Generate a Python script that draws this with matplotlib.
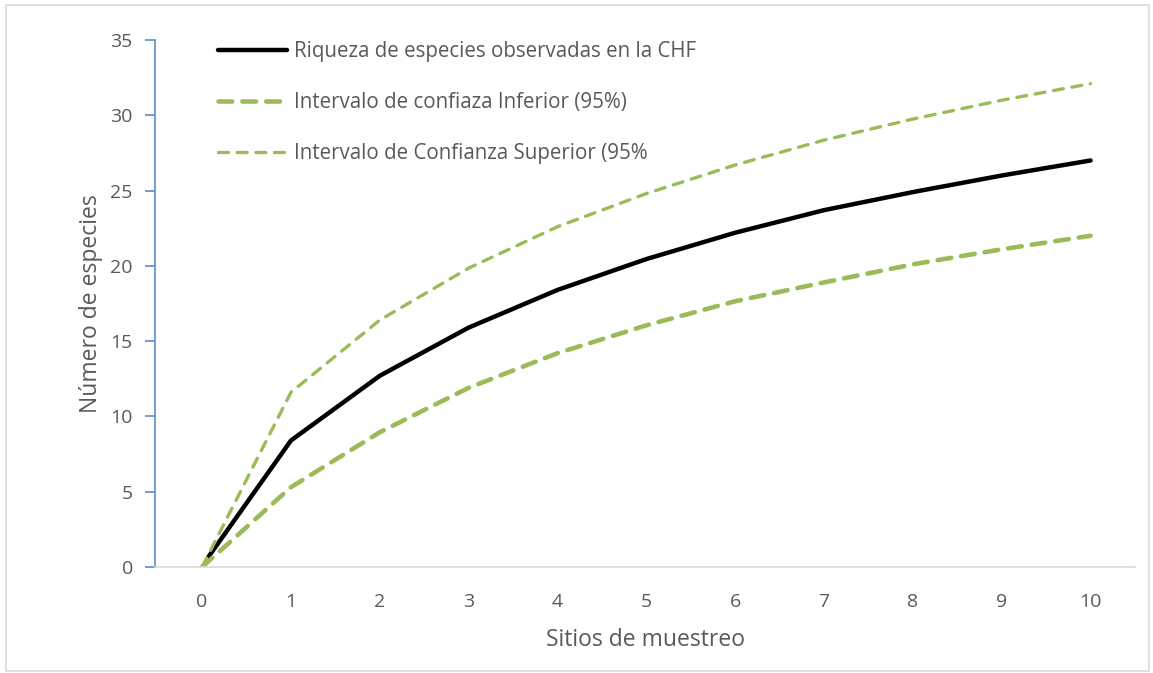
import matplotlib.pyplot as plt
from matplotlib.patches import Rectangle

plt.rcParams['font.family'] = ['Open Sans', 'DejaVu Sans']

sitios = [0, 1, 2, 3, 4, 5, 6, 7, 8, 9, 10]
sitios_obs = [0.07, 1, 2, 3, 4, 5, 6, 7, 8, 9, 10]
riqueza = [0.66, 8.4, 12.7, 15.9, 18.4, 20.45, 22.2, 23.7, 24.9, 26.0, 27.0]
ic_inferior = [0, 5.3, 8.95, 11.9, 14.2, 16.05, 17.65, 18.9, 20.1, 21.1, 22.0]
ic_superior = [0, 11.6, 16.4, 19.85, 22.6, 24.8, 26.7, 28.35, 29.75, 31.0, 32.1]
etiquetas = ["Riqueza de especies observadas en la CHF",
             "Intervalo de confiaza Inferior (95%)",
             "Intervalo de Confianza Superior (95%"]

verde = "#9BBB59"
gris = "#595959"

fig = plt.figure(figsize=(11.53, 6.73), dpi=100)
ax = fig.add_axes([155 / 1153, 1 - 567 / 673, (1135 - 155) / 1153, (567 - 40) / 673])

ax.plot(sitios_obs, riqueza, color="black", lw=3.2, solid_capstyle="round", label=etiquetas[0])
ax.plot(sitios, ic_inferior, color=verde, lw=3.3, ls=(0, (3, 2.2)), dash_capstyle="round", label=etiquetas[1])
ax.plot(sitios, ic_superior, color=verde, lw=2.4, ls=(0, (3, 2.6)), dash_capstyle="round", label=etiquetas[2])

ax.set_xlim(-0.53, 10.5)
ax.set_ylim(0, 35)
ax.set_xticks(sitios)
ax.set_yticks(range(0, 36, 5))

for s in ["top", "right"]:
    ax.spines[s].set_visible(False)
ax.spines["bottom"].set_color("#D9D9D9")
ax.spines["bottom"].set_linewidth(1.2)
ax.spines["left"].set_color("#5B8BD0")
ax.spines["left"].set_linewidth(1.2)

ax.tick_params(axis="y", colors="#5B8BD0", length=7, width=1.2, labelcolor=gris, labelsize=14, pad=9)
ax.tick_params(axis="x", length=0, labelcolor=gris, labelsize=14, pad=19)

ax.set_xlabel("Sitios de muestreo", fontsize=16.5, color=gris, labelpad=12)
ax.set_ylabel("Número de especies", fontsize=16.5, color=gris, labelpad=5)

ax.legend(loc="upper left", bbox_to_anchor=(0.045, 1.033), frameon=False, fontsize=14.8,
          handlelength=3.4, labelspacing=1.45, handletextpad=0.3, labelcolor=gris)

fig.patches.append(Rectangle((6 / 1153, 2 / 673), 1143 / 1153, 666 / 673, transform=fig.transFigure,
                             fill=False, edgecolor="#D9D9D9", lw=1.2))

fig.savefig("out.png", dpi=100)
